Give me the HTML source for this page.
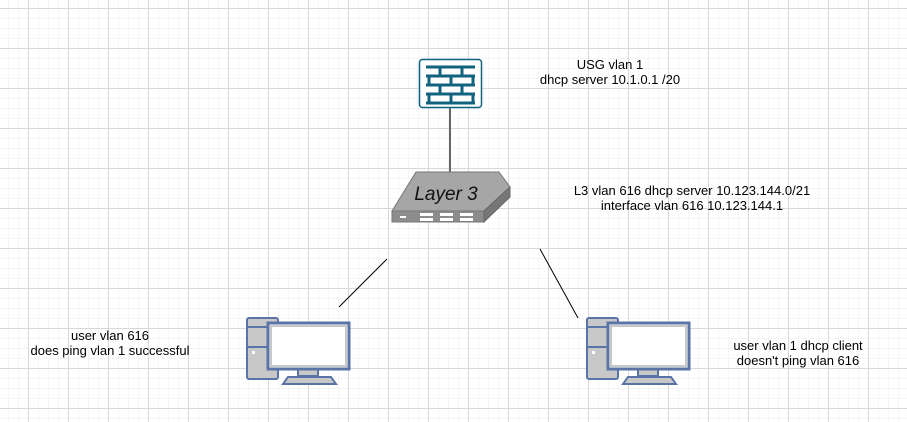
<!DOCTYPE html>
<html><head><style>
html,body{margin:0;padding:0;background:#fff;}
body{width:907px;height:422px;overflow:hidden;position:relative;
background-image:
linear-gradient(#d8d8d8 1px,transparent 1px),
linear-gradient(90deg,#d8d8d8 1px,transparent 1px),
linear-gradient(#f5f5f5 1px,transparent 1px),
linear-gradient(90deg,#f5f5f5 1px,transparent 1px);
background-size:40px 40px,40px 40px,10px 10px,10px 10px;
background-position:0 8px,28px 0,0 8px,28px 0;}
.t{position:absolute;font-family:"Liberation Sans",sans-serif;font-size:13px;color:#000;text-align:center;line-height:15px;white-space:nowrap}
</style></head><body>
<svg width="907" height="422" style="position:absolute;left:0;top:0">
<line x1="450" y1="107" x2="450" y2="175" stroke="#666" stroke-width="2"/>
<line x1="339" y1="307" x2="387" y2="259" stroke="#000" stroke-width="1"/>
<line x1="540" y1="249" x2="578" y2="318" stroke="#000" stroke-width="1"/>
<g>
<rect x="419.5" y="59.5" width="62" height="48" rx="3" fill="#fff" stroke="#10627f" stroke-width="1.5"/>
<g stroke="#10627f" stroke-width="3" fill="none">
<line x1="426" y1="67" x2="475" y2="67"/><line x1="426" y1="76" x2="475" y2="76"/>
<line x1="426" y1="85" x2="475" y2="85"/><line x1="426" y1="94" x2="475" y2="94"/>
<line x1="426" y1="103" x2="475" y2="103"/>
<line x1="440" y1="67" x2="440" y2="76"/><line x1="462" y1="67" x2="462" y2="76"/>
<line x1="429" y1="76" x2="429" y2="85"/><line x1="451" y1="76" x2="451" y2="85"/><line x1="473" y1="76" x2="473" y2="85"/>
<line x1="440" y1="85" x2="440" y2="94"/><line x1="462" y1="85" x2="462" y2="94"/>
<line x1="429" y1="94" x2="429" y2="103"/><line x1="451" y1="94" x2="451" y2="103"/><line x1="473" y1="94" x2="473" y2="103"/>
</g></g>
<polygon points="416,172 499,172 510,187 484,211 392,211" fill="#a6a6a6" stroke="#777"/>
<polygon points="392,211 484,211 484,222 392,222" fill="#8c8c8c" stroke="#777"/>
<polygon points="484,211 510,187 510,197 484,222" fill="#777" stroke="#666"/>
<rect x="400" y="216" width="6" height="2" fill="#fff"/>
<g fill="#fff"><rect x="420" y="213" width="13" height="3"/><rect x="440" y="213" width="13" height="3"/><rect x="460" y="213" width="13" height="3"/>
<rect x="420" y="218" width="13" height="3"/><rect x="440" y="218" width="13" height="3"/><rect x="460" y="218" width="13" height="3"/></g>
<text x="446" y="200" font-family="Liberation Sans,sans-serif" font-size="19" font-style="italic" text-anchor="middle" fill="#111">Layer 3</text>
<g id="pc">
<rect x="247" y="318" width="31" height="61" rx="2" fill="#c8c8c8" stroke="#5b74a8" stroke-width="2"/>
<line x1="247" y1="327" x2="278" y2="327" stroke="#5b74a8" stroke-width="2"/>
<line x1="247" y1="347" x2="278" y2="347" stroke="#5b74a8" stroke-width="2"/>
<rect x="252" y="351" width="3" height="3" fill="#fff"/>
<rect x="298" y="368" width="20" height="8" fill="#c8c8c8" stroke="#5b74a8" stroke-width="2"/>
<polygon points="283,384 336,384 331,377 288,377" fill="#c8c8c8" stroke="#5b74a8" stroke-width="2"/>
<rect x="268" y="323" width="81" height="46" fill="#fff" stroke="#5b74a8" stroke-width="3"/>
<rect x="271" y="326" width="75" height="40" fill="#fff" stroke="#c8c8c8" stroke-width="2"/>
</g>
<use href="#pc" x="340" y="0"/>
</svg>
<div class="t" style="left:510px;top:57px;width:200px">USG vlan 1<br>dhcp server 10.1.0.1 /20</div>
<div class="t" style="left:572px;top:183px;width:240px">L3 vlan 616 dhcp server 10.123.144.0/21<br>interface vlan 616 10.123.144.1</div>
<div class="t" style="left:10px;top:328px;width:200px">user vlan 616<br>does ping vlan 1 successful</div>
<div class="t" style="left:718px;top:338px;width:160px">user vlan 1 dhcp client<br>doesn't ping vlan 616</div>
</body></html>
